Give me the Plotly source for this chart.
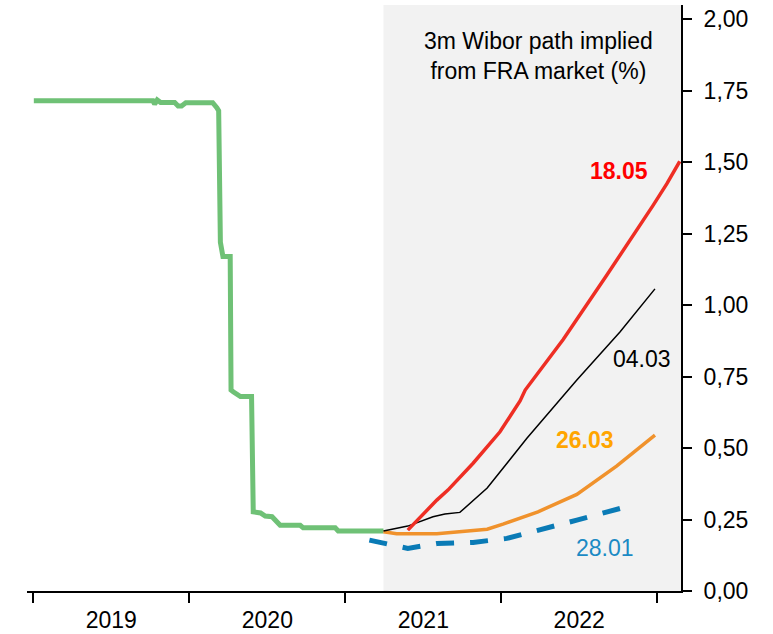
import plotly.graph_objects as go

# ---- data ----
wibor_dates = ["2019-01-02", "2019-10-08", "2019-10-12", "2019-10-18", "2019-10-26",
               "2019-11-28", "2019-12-06", "2019-12-14", "2019-12-24", "2020-02-25",
               "2020-03-06", "2020-03-10", "2020-03-14", "2020-03-17", "2020-03-20",
               "2020-04-06", "2020-04-08", "2020-04-13", "2020-04-30", "2020-05-26",
               "2020-05-30", "2020-06-16", "2020-06-27", "2020-07-13", "2020-07-24",
               "2020-08-01", "2020-09-17", "2020-09-24", "2020-12-08", "2020-12-15",
               "2021-03-31"]
wibor_vals = [1.715, 1.715, 1.703, 1.718, 1.709,
              1.709, 1.697, 1.697, 1.708, 1.708,
              1.69, 1.68, 1.22, 1.18, 1.17,
              1.17, 0.703, 0.697, 0.68, 0.68,
              0.277, 0.273, 0.262, 0.26, 0.242,
              0.23, 0.23, 0.221, 0.221, 0.21,
              0.21]

fra_2801_dates = ["2021-02-26", "2021-05-27", "2021-08-03", "2021-10-27",
                  "2022-01-14", "2022-04-01", "2022-06-27", "2022-10-22"]
fra_2801_vals = [0.178, 0.149, 0.166, 0.17, 0.184, 0.213, 0.248, 0.295]

fra_2603_dates = ["2021-03-31", "2021-05-01", "2021-08-03", "2021-11-29",
                  "2022-01-05", "2022-03-28", "2022-06-27", "2022-09-28", "2022-12-27"]
fra_2603_vals = [0.207, 0.20, 0.20, 0.216, 0.234, 0.277, 0.338, 0.437, 0.545]

fra_0403_dates = ["2021-03-31", "2021-05-27", "2021-07-25", "2021-08-22", "2021-09-26",
                  "2021-11-29", "2022-03-02", "2022-06-27", "2022-10-06", "2022-12-27"]
fra_0403_vals = [0.21, 0.227, 0.26, 0.269, 0.275, 0.36, 0.534, 0.738, 0.906, 1.057]

fra_1805_dates = ["2021-05-27", "2021-08-03", "2021-08-29", "2021-10-27", "2021-12-29",
                  "2022-02-14", "2022-02-26", "2022-04-01", "2022-05-26", "2022-09-03",
                  "2022-10-29", "2022-12-23", "2023-01-24", "2023-02-23"]
fra_1805_vals = [0.213, 0.318, 0.353, 0.447, 0.557,
                 0.665, 0.703, 0.77, 0.88, 1.10,
                 1.225, 1.35, 1.425, 1.503]

x_range = ["2018-12-17", "2023-02-26"]
forecast_start = "2021-03-31"
y_ticks = [0, 0.25, 0.5, 0.75, 1.0, 1.25, 1.5, 1.75, 2.0]

FONT = "Liberation Sans, Arial, sans-serif"
FS = 23

fig = go.Figure()
fig.add_trace(go.Scatter(x=wibor_dates, y=wibor_vals, mode="lines",
                         line=dict(color="#6fc176", width=5), hoverinfo="skip"))
fig.add_trace(go.Scatter(x=fra_2801_dates, y=fra_2801_vals, mode="lines",
                         line=dict(color="#0a7bb6", width=5, dash="18px,16px"), hoverinfo="skip"))
fig.add_trace(go.Scatter(x=fra_2603_dates, y=fra_2603_vals, mode="lines",
                         line=dict(color="#f0922c", width=3.5), hoverinfo="skip"))
fig.add_trace(go.Scatter(x=fra_0403_dates, y=fra_0403_vals, mode="lines",
                         line=dict(color="#000000", width=1.5), hoverinfo="skip"))
fig.add_trace(go.Scatter(x=fra_1805_dates, y=fra_1805_vals, mode="lines",
                         line=dict(color="#ee2e24", width=3.5), hoverinfo="skip"))

fig.add_shape(type="rect", xref="x", yref="paper", x0=forecast_start, x1=x_range[1],
              y0=0, y1=1, fillcolor="#f2f2f2", line=dict(width=0), layer="below")

def px(xp):
    return (xp - 27) / 654

def py(yp):
    return (591 - yp) / 586

labels = [
    ("<b>18.05</b>", 619, 171, "#ff0000"),
    ("04.03", 642, 359, "#000000"),
    ("<b>26.03</b>", 585, 440, "#ffa500"),
    ("28.01", 605, 548, "#1b8ac4"),
    ("3m Wibor path implied<br>from FRA market (%)", 538, 56, "#000000"),
]
for text, xp, yp, col in labels:
    fig.add_annotation(text=text, xref="paper", yref="paper", x=px(xp), y=py(yp),
                       xanchor="center", yanchor="middle", align="center", showarrow=False,
                       font=dict(family=FONT, size=FS, color=col))

fig.update_layout(
    width=773, height=634,
    margin=dict(l=27, r=92, t=5, b=43),
    paper_bgcolor="white", plot_bgcolor="white",
    showlegend=False,
    separators=", ",
    font=dict(family=FONT, size=FS, color="#000000"),
    xaxis=dict(
        type="date", range=x_range, automargin=False,
        tick0="2019-01-01", dtick="M12", tickformat="%Y",
        ticklabelmode="period",
        ticks="outside", ticklen=10, tickwidth=2, tickcolor="black",
        showline=True, linecolor="black", linewidth=2,
        showgrid=False, zeroline=False,
        tickfont=dict(family=FONT, size=FS, color="black"),
        ticklabelstandoff=-3,
    ),
    yaxis=dict(
        side="right", range=[0, 2.05], automargin=False,
        tickvals=y_ticks, tickformat=".2f",
        ticks="outside", ticklen=9, tickwidth=2, tickcolor="black",
        showline=True, linecolor="black", linewidth=2,
        showgrid=False, zeroline=False,
        tickfont=dict(family=FONT, size=FS, color="black"),
        ticklabelstandoff=7,
    ),
)

fig.write_html("out.html", config={"displayModeBar": False},
               post_script="document.body.style.margin='0';document.body.style.padding='0';")
